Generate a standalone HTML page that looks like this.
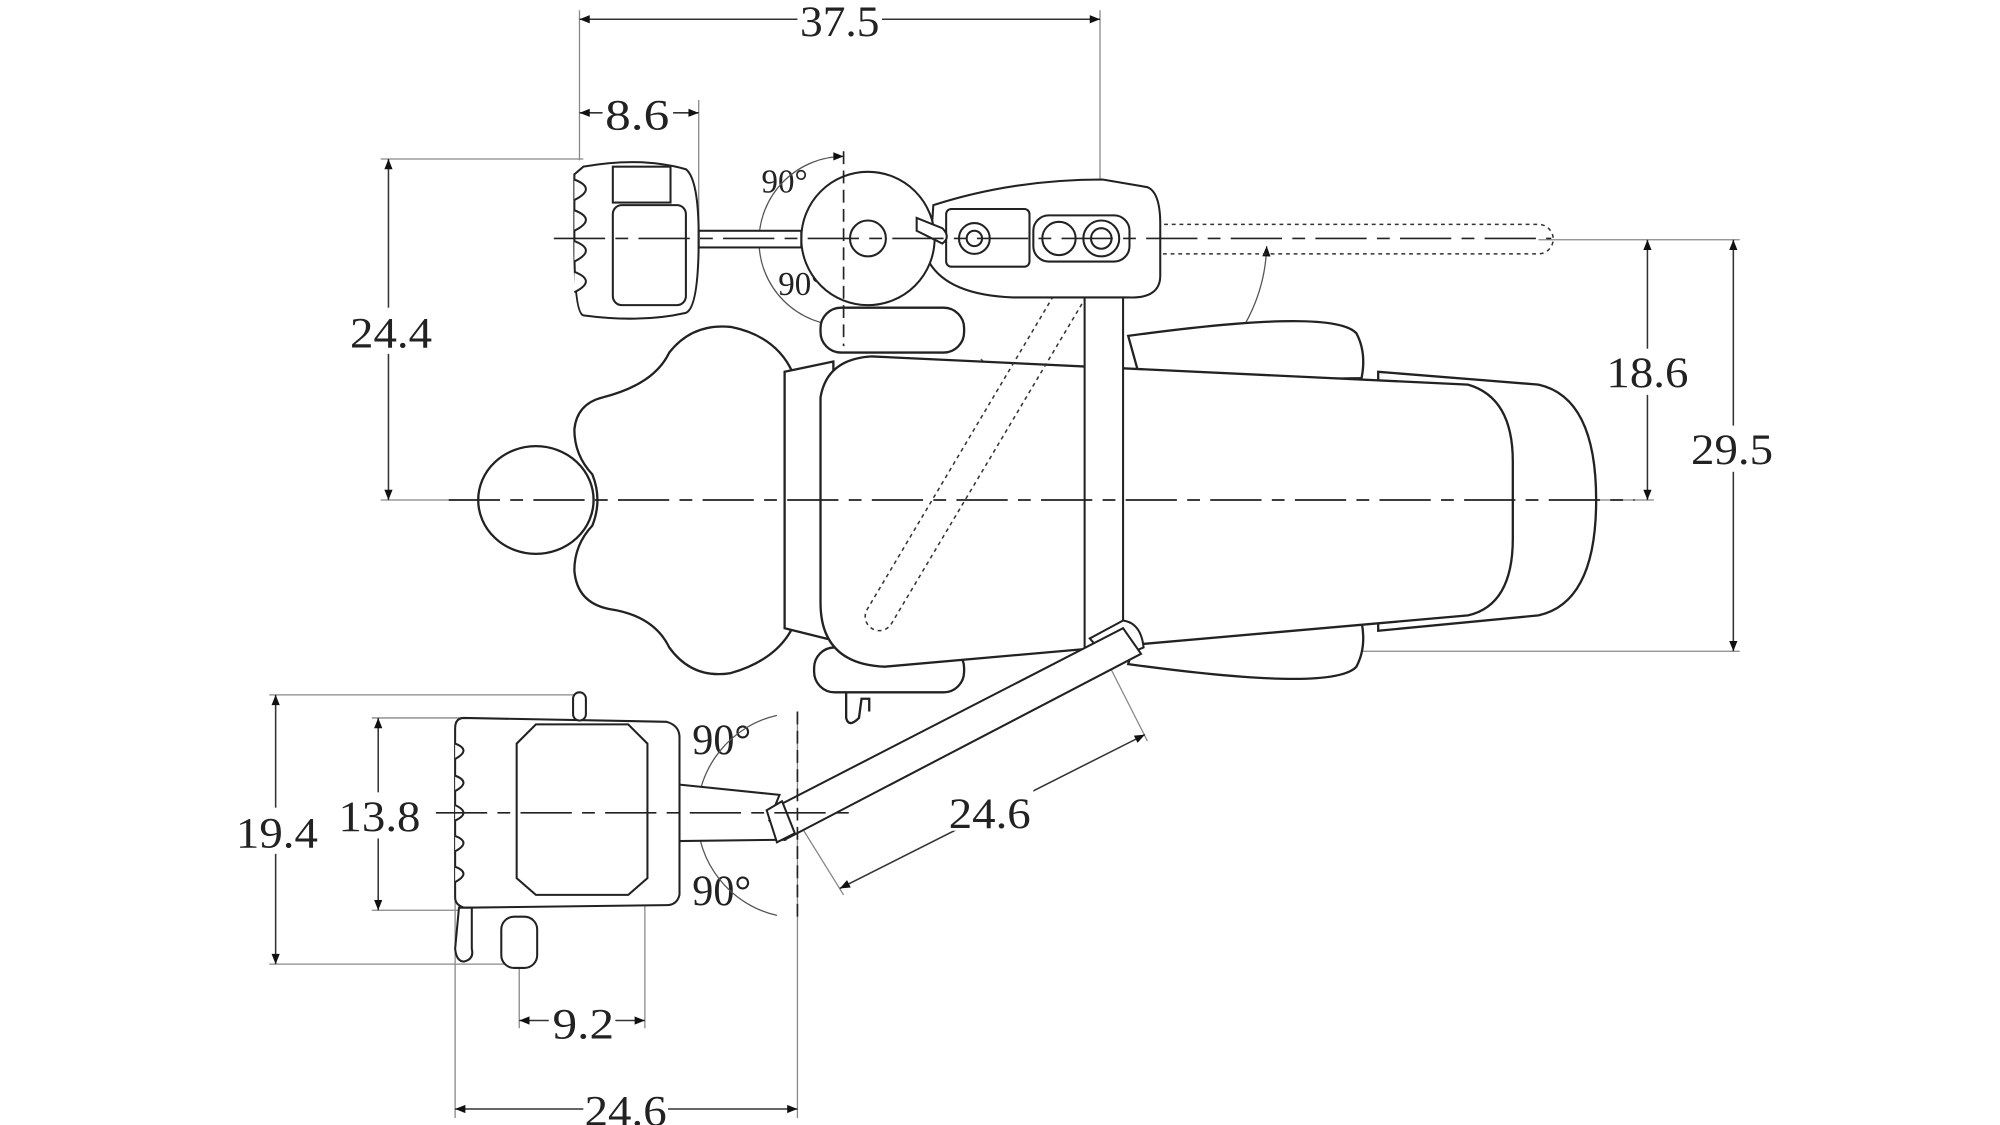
<!DOCTYPE html>
<html><head><meta charset="utf-8"><style>
html,body{margin:0;padding:0;background:#fff;}
svg{display:block}
text{font-family:"Liberation Serif",serif;font-size:34px;fill:#222;}
.s{font-size:26px}
</style></head><body>
<svg width="2000" height="1125" viewBox="0 0 1560 877.5" preserveAspectRatio="none" xmlns="http://www.w3.org/2000/svg">
<defs>
<marker id="a" viewBox="0 0 10 10" refX="10" refY="5" markerWidth="14" markerHeight="8" orient="auto-start-reverse" markerUnits="userSpaceOnUse"><path d="M0,1 L10,5 L0,9z" fill="#111"/></marker>
</defs>
<rect width="1560" height="878" fill="#fff"/>
<g stroke="#888" stroke-width="1" fill="none">
<line x1="452" y1="8" x2="452" y2="125"/><line x1="858" y1="8" x2="858" y2="395"/>
<line x1="545" y1="78" x2="545" y2="192"/>
<line x1="297" y1="124" x2="455" y2="124"/>
<line x1="297" y1="390" x2="360" y2="390"/>
<line x1="1200" y1="187" x2="1357" y2="187"/>
<line x1="880" y1="508" x2="1357" y2="508"/>
<line x1="1240" y1="390" x2="1290" y2="390"/>
<line x1="210" y1="542" x2="455" y2="542"/><line x1="210" y1="752" x2="400" y2="752"/>
<line x1="290" y1="560" x2="362" y2="560"/><line x1="290" y1="710" x2="362" y2="710"/>
<line x1="405" y1="715" x2="405" y2="802"/><line x1="503" y1="690" x2="503" y2="802"/>
<line x1="355" y1="700" x2="355" y2="872"/><line x1="622" y1="555" x2="622" y2="872"/>
<line x1="858" y1="505" x2="895" y2="578"/><line x1="622" y1="640" x2="658" y2="698"/>
</g>
<g stroke="#333" stroke-width="1.2" fill="none" marker-start="url(#a)" marker-end="url(#a)">
<line x1="452" y1="15" x2="858" y2="15"/>
<line x1="452" y1="88" x2="545" y2="88"/>
<line x1="303" y1="124" x2="303" y2="390"/>
<line x1="1285" y1="187" x2="1285" y2="390"/>
<line x1="1352" y1="187" x2="1352" y2="508"/>
<line x1="215" y1="542" x2="215" y2="752"/>
<line x1="295" y1="560" x2="295" y2="710"/>
<line x1="405" y1="796" x2="503" y2="796"/>
<line x1="355" y1="865" x2="622" y2="865"/>
<line x1="655" y1="693" x2="893" y2="573"/>
</g>
<g fill="#fff">
<rect x="622" y="2" width="66" height="28"/><rect x="470" y="72" width="55" height="32"/>
<rect x="270" y="240" width="70" height="36"/><rect x="1250" y="272" width="70" height="36"/>
<rect x="1316" y="332" width="70" height="36"/><rect x="180" y="630" width="70" height="36"/>
<rect x="262" y="618" width="68" height="36"/><rect x="428" y="780" width="52" height="32"/>
<rect x="455" y="848" width="66" height="30"/>
<rect x="740" y="612" width="66" height="36"/>
</g>
<text x="655" y="28" text-anchor="middle" textLength="62" lengthAdjust="spacingAndGlyphs">37.5</text>
<text x="497" y="101" text-anchor="middle" textLength="50" lengthAdjust="spacingAndGlyphs">8.6</text>
<text x="305" y="271" text-anchor="middle" textLength="64" lengthAdjust="spacingAndGlyphs">24.4</text>
<text x="1285" y="302" text-anchor="middle" textLength="64" lengthAdjust="spacingAndGlyphs">18.6</text>
<text x="1351" y="362" text-anchor="middle" textLength="64" lengthAdjust="spacingAndGlyphs">29.5</text>
<text x="216" y="661" text-anchor="middle" textLength="64" lengthAdjust="spacingAndGlyphs">19.4</text>
<text x="296" y="648" text-anchor="middle" textLength="64" lengthAdjust="spacingAndGlyphs">13.8</text>
<text x="455" y="810" text-anchor="middle" textLength="48" lengthAdjust="spacingAndGlyphs">9.2</text>
<text x="488" y="878" text-anchor="middle" textLength="64" lengthAdjust="spacingAndGlyphs">24.6</text>
<text x="772" y="646" text-anchor="middle" textLength="64" lengthAdjust="spacingAndGlyphs">24.6</text>
<text x="952" y="294" text-anchor="middle" textLength="46" lengthAdjust="spacingAndGlyphs">90°</text>
<text x="825" y="328" text-anchor="middle" textLength="46" lengthAdjust="spacingAndGlyphs">30°</text>
<text x="612" y="150" class="s" text-anchor="middle" textLength="36" lengthAdjust="spacingAndGlyphs">90°</text>
<text x="625" y="230" class="s" text-anchor="middle" textLength="36" lengthAdjust="spacingAndGlyphs">90°</text>
<text x="563" y="588" text-anchor="middle" textLength="46" lengthAdjust="spacingAndGlyphs">90°</text>
<text x="563" y="706" text-anchor="middle" textLength="46" lengthAdjust="spacingAndGlyphs">90°</text>
<g stroke="#555" stroke-width="1" fill="none">
<path d="M658 122 A66 66 0 0 0 658 254" marker-start="url(#a)" marker-end="url(#a)"/>
<path d="M606 558 A80 80 0 0 0 606 714"/>
<path d="M988 192 A130 130 0 0 1 870 318" marker-start="url(#a)" marker-end="url(#a)"/>
<path d="M765 280 L790 302" marker-end="url(#a)"/>
</g>
<g stroke="#222" stroke-width="1.8" fill="#fff">
<ellipse cx="418" cy="390" rx="45" ry="42"/>
<path d="M470 310 Q450 315 448 335 Q448 355 462 370 Q470 390 462 410 Q448 425 448 445 Q450 470 475 475 Q510 480 522 505 Q540 530 570 525 Q605 515 618 490 Q632 470 632 430 L632 350 Q632 310 618 290 Q605 262 570 255 Q540 252 522 275 Q510 300 470 310Z"/>
<path d="M612 290 L650 282 L652 500 L612 490Z"/>
<rect x="640" y="240" width="112" height="35" rx="16"/>
<rect x="635" y="505" width="117" height="35" rx="16"/>
<path d="M880 262 Q1040 240 1058 260 Q1066 275 1062 295 L890 298Z"/>
<path d="M880 518 Q1040 540 1058 520 Q1066 505 1062 485 L890 482Z"/>
<path d="M1075 290 L1200 300 Q1245 310 1245 390 Q1245 470 1200 480 L1075 492Z"/>
<path d="M680 278 L1145 300 Q1180 310 1180 360 L1180 420 Q1180 472 1145 480 L690 520 Q640 518 640 470 L640 310 Q645 280 680 278Z"/>
<path d="M660 540 L660 560 Q662 568 670 560 L672 545 L678 545 L678 555" fill="none"/>
</g>
<g stroke="#333" stroke-width="1.2" fill="none" stroke-dasharray="3,3">
<path d="M860 175 L1200 175 A11.5 11.5 0 0 1 1200 198 L860 198"/>
<path d="M840 200 L676 476 A11 11 0 0 0 695 487 L860 210"/>
<path d="M640 180 L860 180 M640 193 L860 193"/>
</g>
<g stroke="#222" stroke-width="1.6" fill="#fff">
<rect x="846" y="225" width="30" height="280"/>
<path d="M850 498 L876 484 Q890 486 892 505 L866 516Z"/>
<path d="M600 632 L876 490 L890 510 L612 655Z"/>
<path d="M530 612 L608 620 L600 640 L612 655 L530 656Z"/>
<path d="M598 632 L610 625 L620 650 L606 657Z"/>
<path d="M728 160 Q790 140 860 140 L895 146 Q905 150 905 175 L905 215 Q905 233 880 232 L790 232 Q740 230 725 205Z"/>
<rect x="738" y="163" width="65" height="45" rx="4"/>
<rect x="806" y="168" width="75" height="36" rx="12"/>
<circle cx="826" cy="186" r="13"/>
<circle cx="859" cy="186" r="14"/><circle cx="859" cy="186" r="8"/>
<circle cx="760" cy="186" r="12"/><circle cx="760" cy="186" r="6"/>
<circle cx="677" cy="186" r="52"/>
<circle cx="677" cy="186" r="14"/>
<path d="M715 170 L735 178 Q742 185 735 190 L715 180Z"/>
<path d="M455 130 Q500 122 535 132 Q545 140 545 185 Q545 240 535 244 Q500 252 455 246 Q448 244 448 190 L448 136Z"/>
<rect x="478" y="130" width="45" height="28"/>
<rect x="478" y="160" width="57" height="78" rx="7"/>
<rect x="545" y="180" width="80" height="13"/>
<path d="M362 560 L520 563 Q530 566 530 575 L530 698 Q528 706 520 706 L362 708 Q355 706 355 700 L355 568 Q355 560 362 560Z"/>
<path d="M418 565 L490 565 L505 580 L505 685 L490 698 L418 698 L403 685 L403 580Z"/>
<rect x="447" y="540" width="10" height="22" rx="5"/>
<path d="M358 708 L355 740 Q356 750 362 750 Q370 748 368 740 L368 708Z"/>
<rect x="391" y="715" width="28" height="40" rx="10"/>
</g>
<g stroke="#222" stroke-width="1.6" fill="#fff">
<path d="M448 140 Q466 147 448 156 M448 164 Q466 171 448 180 M448 188 Q466 195 448 204 M448 212 Q466 219 448 228"/>
<path d="M355 580 Q368 585 355 592 M355 605 Q368 610 355 617 M355 628 Q368 634 355 640 M355 652 Q368 657 355 664 M355 676 Q368 681 355 688"/>
</g>
<g stroke="#222" stroke-width="1.3" fill="none" stroke-dasharray="40,8,10,8">
<line x1="350" y1="390" x2="1275" y2="390"/>
<line x1="432" y1="186" x2="1210" y2="186"/>
<line x1="340" y1="634" x2="670" y2="634"/>
<line x1="658" y1="118" x2="658" y2="270" stroke-dasharray="10,5"/>
<line x1="622" y1="555" x2="622" y2="720" stroke-dasharray="10,5"/>
</g>
</svg>
</body></html>
